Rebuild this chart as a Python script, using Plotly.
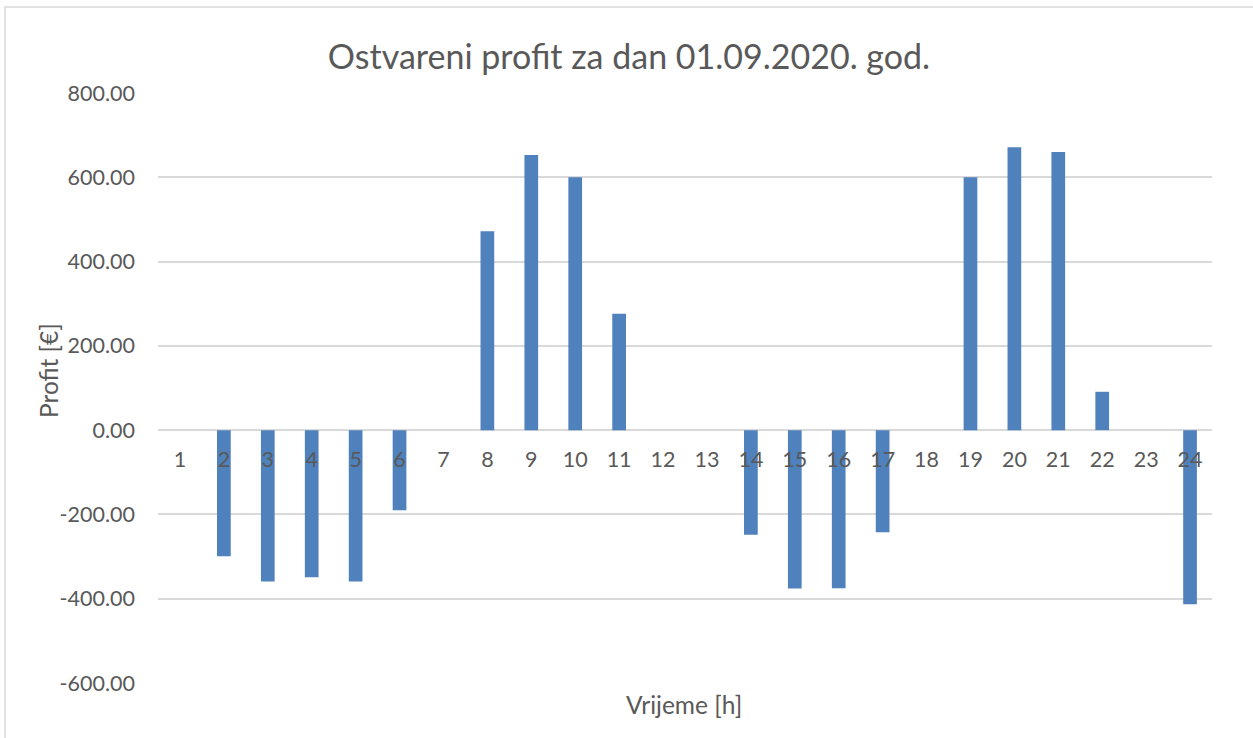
import plotly.graph_objects as go

hours = [str(h) for h in range(1, 25)]
profit = [0, -299, -359, -349, -359, -190, 0, 472, 653, 600, 276, 0,
          0, -248, -376, -375, -242, 0, 600, 671, 660, 91, 0, -413]
y_ticks = [-600, -400, -200, 0, 200, 400, 600, 800]
y_tick_text = [f"{v:.2f}" for v in y_ticks]
y_min, y_max = -600, 800

W, H = 1253, 738
ml, mr, mt, mb = 158, 41, 93, 55
text_col = "#595959"
font_fam = "Lato, Carlito, 'Open Sans', sans-serif"

fig = go.Figure()
fig.add_trace(go.Bar(
    x=hours, y=profit,
    marker=dict(color="#4F81BD", line=dict(width=0)),
    showlegend=False,
))

fig.update_layout(
    width=W, height=H,
    margin=dict(l=ml, r=mr, t=mt, b=mb),
    paper_bgcolor="white", plot_bgcolor="white",
    bargap=0.688,
    font=dict(family=font_fam, color=text_col),
    title=dict(text="Ostvareni profit za dan 01.09.2020. god.",
               x=629 / W, xanchor="center", y=1 - 57 / H, yanchor="middle",
               font=dict(size=34, color=text_col, family=font_fam)),
)

zero_pos = (0 - y_min) / (y_max - y_min)
fig.update_xaxes(
    type="category", anchor="free", position=zero_pos,
    showgrid=False, showline=False, zeroline=False,
    ticks="", ticklabelstandoff=14,
    tickfont=dict(size=21.5, color=text_col),
)
fig.update_yaxes(
    range=[y_min, y_max], tickvals=y_ticks, ticktext=y_tick_text,
    showgrid=True, gridcolor="#D9D9D9", gridwidth=1.5,
    zeroline=True, zerolinecolor="#D9D9D9", zerolinewidth=1.5,
    showline=False, ticks="", ticklabelstandoff=22,
    tickfont=dict(size=21.5, color=text_col),
)

pw, ph = W - ml - mr, H - mt - mb
def px_x(px):
    return (px - ml) / pw
def px_y(py):
    return (H - mb - py) / ph

fig.add_annotation(
    text="Vrijeme [h]", xref="paper", yref="paper",
    x=px_x(684), y=px_y(704), xanchor="center", yanchor="middle",
    showarrow=False, font=dict(size=24.5, color=text_col),
)
fig.add_annotation(
    text="Profit [€]", xref="paper", yref="paper",
    x=px_x(48), y=px_y(371), xanchor="center", yanchor="middle",
    textangle=-90, showarrow=False, font=dict(size=24.5, color=text_col),
)

# chart border
fig.add_shape(type="rect", xref="paper", yref="paper",
              x0=px_x(5), x1=px_x(W + 20), y0=px_y(H + 20), y1=px_y(7),
              line=dict(color="#D9D9D9", width=1.5), fillcolor="rgba(0,0,0,0)",
              layer="below")

fig.write_html("out.html",
               config={"displayModeBar": False},
               post_script="document.body.style.margin='0';document.body.style.overflow='hidden';")
